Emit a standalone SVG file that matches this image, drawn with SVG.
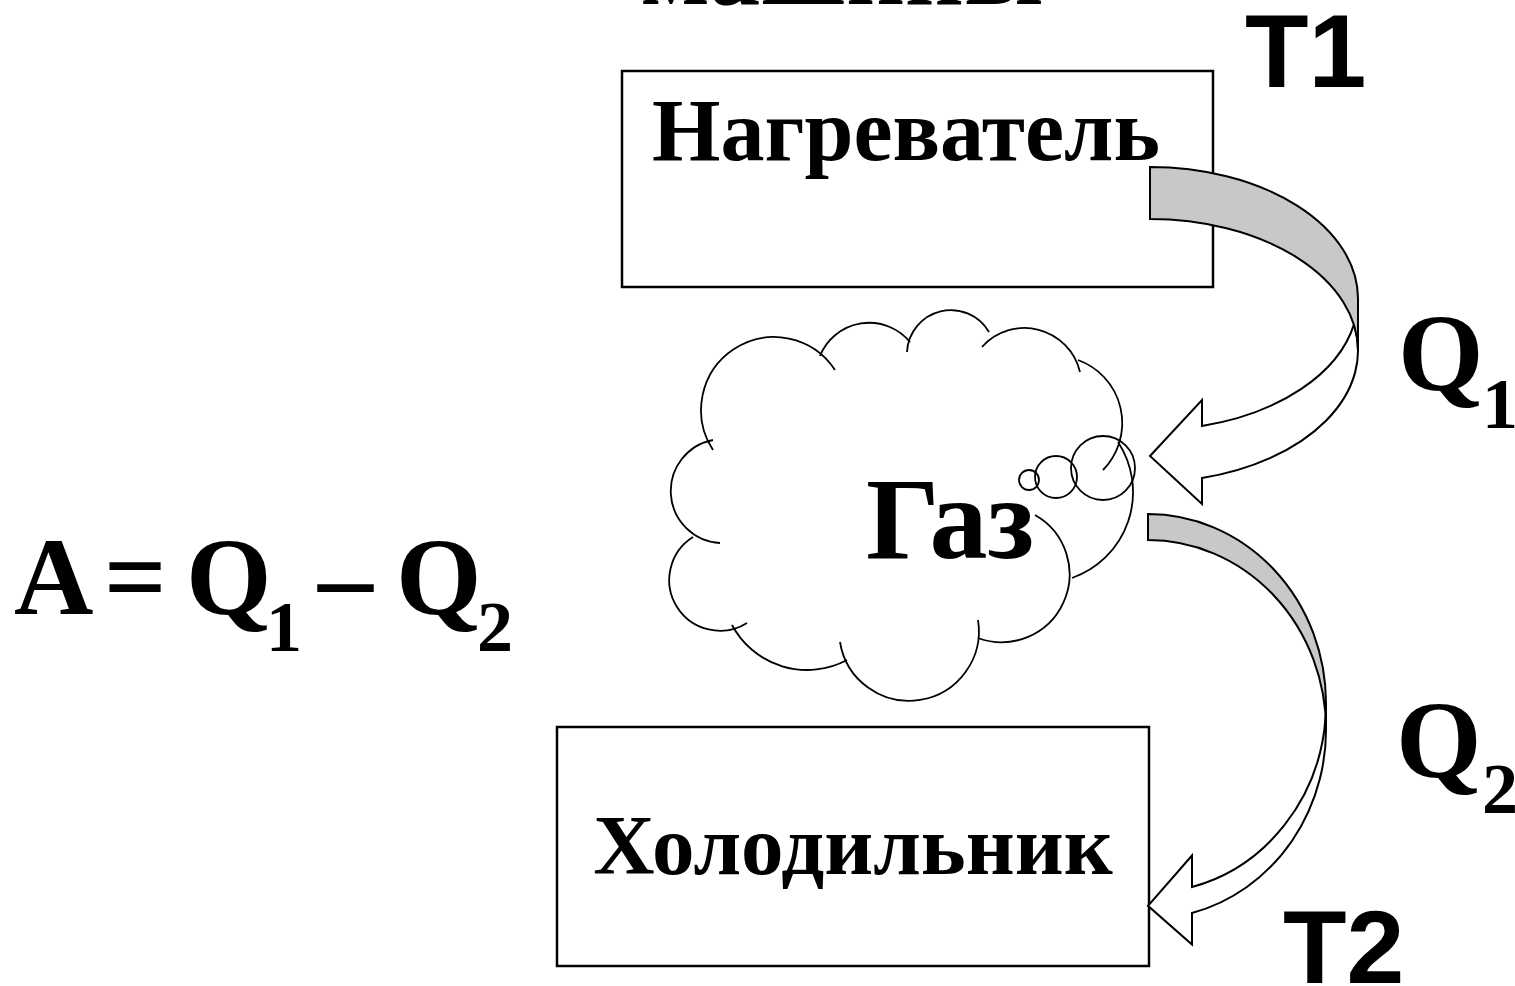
<svg xmlns="http://www.w3.org/2000/svg" width="1515" height="986" viewBox="0 0 1515 986">
<style>
.serif{font-family:"Liberation Serif","Times New Roman",serif;font-weight:bold;fill:#000}
.sans{font-family:"Liberation Sans",Arial,sans-serif;font-weight:bold;fill:#000}
.box{fill:#fff;stroke:#000;stroke-width:2.5}
.cl{fill:none;stroke:#000;stroke-width:1.8}
.front{fill:#fff;stroke:#000;stroke-width:2;stroke-linejoin:miter}
.back{fill:#c8c8c8;stroke:#000;stroke-width:2;stroke-linejoin:miter}
</style>
<rect width="1515" height="986" fill="#fff"/>
<text class="serif" x="842" y="4" font-size="102" text-anchor="middle">машины</text>

<g id="heater">
<rect class="box" x="622" y="71" width="591" height="216"/>
<text class="serif" x="906" y="160" font-size="88" text-anchor="middle">Нагреватель</text>
</g>

<g id="cooler">
<rect class="box" x="557" y="727" width="592" height="239"/>
<text class="serif" x="853" y="874" font-size="85" text-anchor="middle">Холодильник</text>
</g>

<g id="gas">
<path class="cl" d="M720,543 A52,52 0 0 1 713,440"/>
<path class="cl" d="M747,623 A50,50 0 0 1 693,537"/>
<path class="cl" d="M847,660 A85,85 0 0 1 732,625"/>
<path class="cl" d="M978,620 A69,69 0 0 1 840,642"/>
<path class="cl" d="M1035,515 A68,68 0 0 1 978,638"/>
<path class="cl" d="M1118,442 A91,91 0 0 1 1072,578"/>
<path class="cl" d="M1078,360 A67,67 0 0 1 1103,470"/>
<path class="cl" d="M982,347 A57,57 0 0 1 1080,372"/>
<path class="cl" d="M907,352 A44,44 0 0 1 989,332"/>
<path class="cl" d="M820,356 A53,53 0 0 1 910,342"/>
<path class="cl" d="M713,450 A72,72 0 0 1 835,370"/>
<circle class="cl" cx="1103" cy="468" r="32"/>
<circle class="cl" cx="1056" cy="477" r="21"/>
<circle class="cl" cx="1029" cy="480" r="10"/>
<text class="serif" x="866" y="558" font-size="116">Газ</text>
</g>

<g id="connectors">
<g id="q1-arrow">
<path class="front" d="M1150,456 L1202,400 L1202,426 A208,131.6 0 0 0 1353.9,324.6 A208,131.6 0 0 1 1202,478 L1202,504 Z"/>
<path class="back" d="M1150,167 A208,131.6 0 0 1 1358,298.6 L1358,350.6 A208,131.6 0 0 0 1150,219 Z"/>
</g>
<g id="q2-arrow">
<path class="front" d="M1148,905.8 L1192,855.5 L1192,887 A178,189.4 0 0 0 1325.6,716.4 A178,189.4 0 0 1 1192,913 L1192,944.5 Z"/>
<path class="back" d="M1148,514 A178,189.4 0 0 1 1326,703.4 L1326,729.4 A178,189.4 0 0 0 1148,540 Z"/>
</g>
</g>

<g id="labels">
<text class="sans" x="1245" y="87" font-size="104">T1</text>
<text class="sans" x="1283" y="983" font-size="104">T2</text>
<text class="serif" font-size="110"><tspan x="1398" y="390">Q</tspan><tspan x="1482" y="428" font-size="72">1</tspan></text>
<text class="serif" font-size="110"><tspan x="1396" y="777">Q</tspan><tspan x="1482" y="813" font-size="72">2</tspan></text>
</g>

<g id="formula">
<text class="serif" font-size="110"><tspan x="14" y="614">A</tspan><tspan x="104" y="614">=</tspan><tspan x="186" y="614">Q</tspan><tspan x="266" y="651" font-size="72">1</tspan><tspan x="318" y="614">–</tspan><tspan x="396" y="614">Q</tspan><tspan x="477" y="651" font-size="72">2</tspan></text>
</g>
</svg>
